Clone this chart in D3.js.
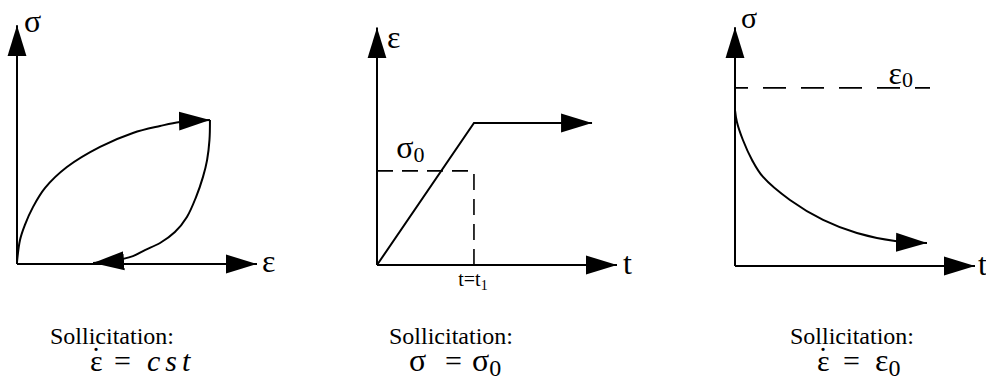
<!DOCTYPE html>
<html><head><meta charset="utf-8">
<script src="https://cdn.jsdelivr.net/npm/d3@7"></script>
</head>
<body style="margin:0">
<div id="fig"></div>
<script>
// ---------- DATA ----------
// Panel 1 : stress-strain loop under constant strain rate
const loadStrain   = [0, 0.125, 0.33, 0.67, 1.17, 2.08, 3.46, 4.83, 5.96, 6.79, 8.04];
const loadStress   = [0.08, 1.0, 1.63, 2.38, 3.17, 4.04, 4.88, 5.46, 5.75, 5.92, 6.0];
const unloadStrain = [8.04, 8.02, 7.92, 7.75, 7.46, 7.08, 6.58, 5.96, 5.33, 4.83, 3.96, 3.17];
const unloadStress = [6.0, 5.17, 4.33, 3.63, 2.79, 1.96, 1.33, 0.875, 0.58, 0.33, 0.125, 0.04];

// Panel 2 : strain vs time under constant stress (creep)
const creepTime   = [0, 4.04, 8.96];
const creepStrain = [0, 5.92, 5.92];
const sigma0Level = 3.92;
const t1Value     = 4.04;

// Panel 3 : stress vs time under constant strain (relaxation)
const relaxTime   = [0, 0.08, 0.33, 0.71, 1.17, 2.29, 3.67, 5.08, 6.67, 8.0];
const relaxStress = [6.5, 6.0, 5.25, 4.42, 3.71, 2.75, 1.92, 1.375, 1.04, 0.96];
const eps0Level   = 7.42;
const eps0End     = 8.125;

// Text
const axisLabels   = [["σ", "ε"], ["ε", "t"], ["σ", "t"]];
const captionTitle = "Sollicitation:";

// ---------- LAYOUT ----------
const FAMS = ["Liberation Serif", "Times New Roman", "DejaVu Serif"];
const FONT = FAMS.map(f => `"${f}"`).join(", ");
const W = 986, H = 382;
const svg = d3.select("#fig").append("svg").attr("width", W).attr("height", H);

const defs = svg.append("defs");
defs.append("marker")
  .attr("id", "arrow")
  .attr("markerUnits", "userSpaceOnUse")
  .attr("markerWidth", 32).attr("markerHeight", 20)
  .attr("refX", 31).attr("refY", 10)
  .attr("orient", "auto")
  .append("path").attr("d", "M0,0.5 L31,10 L0,19.5 Z").attr("fill", "#000");

const panels = [
  { x0: 17,  y0: 264, unit: 24 },
  { x0: 377, y0: 265, unit: 24 },
  { x0: 735, y0: 266, unit: 24 }
];
panels.forEach(p => {
  p.x = d3.scaleLinear().domain([0, 10]).range([p.x0, p.x0 + 10 * p.unit]);
  p.y = d3.scaleLinear().domain([0, 10]).range([p.y0, p.y0 - 10 * p.unit]);
});

function txt(x, y, size) {
  return svg.append("text").attr("x", x).attr("y", y)
    .attr("font-size", size)
    .style("font-family", FONT)
    .attr("fill", "#000");
}

function drawAxes(p, xMax, yMax) {
  const g = svg.append("g");
  g.append("line")
    .attr("x1", p.x(0)).attr("y1", p.y(0)).attr("x2", p.x(xMax)).attr("y2", p.y(0))
    .attr("stroke", "#000").attr("stroke-width", 2).attr("marker-end", "url(#arrow)");
  g.append("line")
    .attr("x1", p.x(0)).attr("y1", p.y(0)).attr("x2", p.x(0)).attr("y2", p.y(yMax))
    .attr("stroke", "#000").attr("stroke-width", 2).attr("marker-end", "url(#arrow)");
}

function drawCurve(p, xs, ys, curve) {
  const pts = xs.map((v, i) => [v, ys[i]]);
  svg.append("path")
    .attr("d", d3.line().x(d => p.x(d[0])).y(d => p.y(d[1])).curve(curve)(pts))
    .attr("fill", "none").attr("stroke", "#000").attr("stroke-width", 2)
    .attr("marker-end", "url(#arrow)");
}

const big = 32;

// ---- Panel 1 ----
const P1 = panels[0];
drawAxes(P1, 10, 9.95);
drawCurve(P1, loadStrain, loadStress, d3.curveCatmullRom);
drawCurve(P1, unloadStrain, unloadStress, d3.curveCatmullRom);
txt(P1.x(0) + 7, P1.y(9.95) + 7, big).text(axisLabels[0][0]);
txt(P1.x(10) + 5, P1.y(0) + 8, big).text(axisLabels[0][1]);

// ---- Panel 2 ----
const P2 = panels[1];
drawAxes(P2, 10, 9.9);
drawCurve(P2, creepTime, creepStrain, d3.curveLinear);
svg.append("path")
  .attr("d", d3.line()([[P2.x(0), P2.y(sigma0Level)], [P2.x(t1Value), P2.y(sigma0Level)], [P2.x(t1Value), P2.y(0)]]))
  .attr("fill", "none").attr("stroke", "#000").attr("stroke-width", 1.6)
  .attr("stroke-dasharray", "16,9");
txt(P2.x(0) + 10, P2.y(9.9) + 21, big).text(axisLabels[1][0]);
txt(P2.x(10) + 6, P2.y(0) + 9, big).text(axisLabels[1][1]);
const s0 = txt(P2.x(0.8), P2.y(sigma0Level) - 13, big);
s0.append("tspan").text("σ");
s0.append("tspan").attr("font-size", 22).attr("dy", 4).text("0");
const tt = txt(P2.x(t1Value) - 1, P2.y(0) + 21, 20).attr("text-anchor", "middle");
tt.append("tspan").text("t=t");
tt.append("tspan").attr("font-size", 14).attr("dy", 4).text("1");

// ---- Panel 3 ----
const P3 = panels[2];
drawAxes(P3, 10, 9.95);
svg.append("line")
  .attr("x1", P3.x(0)).attr("y1", P3.y(eps0Level)).attr("x2", P3.x(eps0End)).attr("y2", P3.y(eps0Level))
  .attr("stroke", "#000").attr("stroke-width", 1.6)
  .attr("stroke-dasharray", "23,15").attr("stroke-dashoffset", 10);
drawCurve(P3, relaxTime, relaxStress, d3.curveCatmullRom);
txt(P3.x(0) + 6, P3.y(9.95) + 1, 30).text(axisLabels[2][0]);
txt(P3.x(10) + 3, P3.y(0) + 9, big).text(axisLabels[2][1]);
const e0 = txt(P3.x(6.4), P3.y(eps0Level) - 4, big);
e0.append("tspan").text("ε");
e0.append("tspan").attr("font-size", 22).attr("dy", 3).text("0");

// ---- Captions ----
const capX = [112, 451, 852];
capX.forEach(cx => {
  txt(cx, 344, 24).attr("text-anchor", "middle").text(captionTitle);
});

function dotted(x, y, size) {
  // epsilon with a dot above
  txt(x, y, size).text("ε");
  txt(x + size * 0.2, y - size * 0.1, size).attr("text-anchor", "middle").text("˙");
}

// equation 1: ε̇ = cst
dotted(90, 371, 30);
txt(114, 371, 30).text("=");
txt(147, 371, 30).style("font-style", "italic").attr("letter-spacing", 5).text("cst");

// equation 2: σ = σ0
txt(409, 371, 32).text("σ");
txt(445, 371, 30).text("=");
const eq2 = txt(472, 371, 32);
eq2.append("tspan").text("σ");
eq2.append("tspan").attr("font-size", 24).attr("dy", 5).text("0");

// equation 3: ε̇ = ε0
dotted(817, 371, 30);
txt(843, 371, 30).text("=");
const eq3 = txt(875, 371, 32);
eq3.append("tspan").text("ε");
eq3.append("tspan").attr("font-size", 24).attr("dy", 5).text("0");
</script>
</body>
</html>
